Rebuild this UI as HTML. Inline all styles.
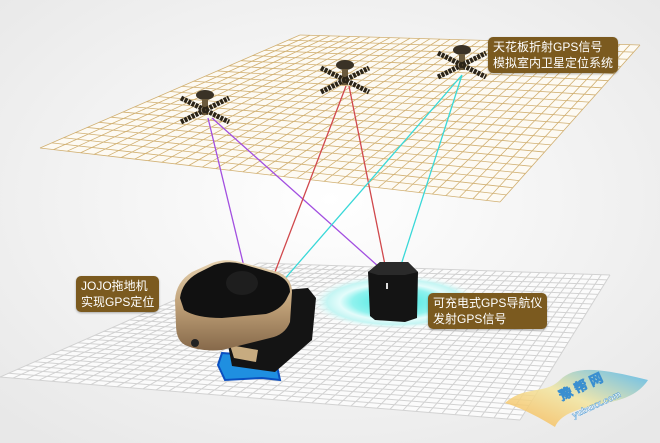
<!DOCTYPE html>
<html><head><meta charset="utf-8"><style>
html,body{margin:0;padding:0;width:660px;height:443px;overflow:hidden;background:#f4f4f4}
.lab{position:absolute;background:#7b5a1f;color:#fff;border-radius:5px;font-family:"Liberation Sans","Noto Sans CJK SC",sans-serif;font-size:12px;line-height:16px;padding:2px 5px;box-shadow:0 1px 2px rgba(0,0,0,.3)}
</style></head><body>
<svg id="s" width="660" height="443" style="position:absolute;left:0;top:0">
<defs>
<radialGradient id="bg" cx="50%" cy="45%" r="70%"><stop offset="0" stop-color="#ffffff"/><stop offset="1" stop-color="#e8e8e8"/></radialGradient>
<radialGradient id="glow"><stop offset="0" stop-color="#3de6e0"/><stop offset=".5" stop-color="#8ff2ee"/><stop offset=".65" stop-color="#e4fcfb"/><stop offset=".8" stop-color="#c4f5f3"/><stop offset="1" stop-color="#fff" stop-opacity="0"/></radialGradient>
<linearGradient id="gold" x1="0" y1="0" x2="0" y2="1"><stop offset="0" stop-color="#e6d2b0"/><stop offset=".5" stop-color="#bfa077"/><stop offset="1" stop-color="#86694a"/></linearGradient>
<linearGradient id="wm" x1="0" y1="1" x2="1" y2="0"><stop offset="0" stop-color="#f7b24a"/><stop offset=".5" stop-color="#f3e6a0"/><stop offset="1" stop-color="#4ab4ee"/></linearGradient>
<g id="sat">
<ellipse cx="0" cy="-10" rx="9" ry="5" fill="#3a3226"/>
<rect x="-3" y="-6" width="6" height="16" fill="#6b5a3c"/>
<path d="M-24,-7L24,17" stroke="#2b2418" stroke-width="5" stroke-dasharray="3,1"/>
<path d="M-24,17L24,-7" stroke="#2b2418" stroke-width="5" stroke-dasharray="3,1"/>
</g>
</defs>
<rect width="660" height="443" fill="url(#bg)"/>
<polygon points="40,148 300,35 640,45 500,202" fill="#fdfaf3"/>
<g id="tg" stroke="#d1b072" stroke-width="0.8"></g>
<polygon points="0,377 259,263 610,275 520,420" fill="#fbfbfb"/>
<g id="bgr" stroke="#d2d2d2" stroke-width="1"></g>
<ellipse cx="395" cy="302" rx="85" ry="28" fill="url(#glow)"/>
<g stroke-width="1.3" fill="none">
<path d="M208,118L246,275M212,118L388,275" stroke="#a24fe0"/>
<path d="M346,86L275,272M349,86L385,265" stroke="#d0484c"/>
<path d="M462,75L282,282M462,75L401,265" stroke="#39d8d8"/>
</g>
<use href="#sat" x="205" y="105"/>
<use href="#sat" x="345" y="75"/>
<use href="#sat" x="462" y="60"/>
<path d="M222,353L275,357L280,380L262,378L225,380L218,365Z" fill="#1f8fe0" stroke="#0b4fc0" stroke-width="2"/>
<path d="M262,292L308,288L316,298L312,340L275,372L232,366L228,345Z" fill="#141414"/>
<path d="M230,345L258,350L256,362L234,358Z" fill="#c7ab80"/>
<path d="M175,300Q176,282 192,272L212,263Q225,258 240,262L278,272Q292,278 292,292L290,322Q285,335 270,338L222,350Q200,352 185,345Q176,340 176,325Z" fill="url(#gold)"/>
<path d="M180,298Q182,282 198,273L214,265Q228,260 242,264L276,274Q290,280 290,292L286,300Q280,310 266,314L222,318Q196,318 184,310Z" fill="#111"/>
<ellipse cx="242" cy="283" rx="16" ry="12" fill="#1e1e1e"/>
<circle cx="195" cy="343" r="4" fill="#222"/>
<path d="M368,272L380,262L408,262L418,272L417,318L405,322L375,320L370,316Z" fill="#141414"/>
<path d="M368,272L380,262L408,262L418,272L405,275L378,275Z" fill="#2a2a2a"/>
<rect x="386" y="283" width="2" height="6" fill="#ddd"/>
<path d="M505,403C525,385 545,395 560,380C575,365 600,368 648,380C635,400 610,402 595,405C575,410 560,415 555,427C540,418 522,408 505,403Z" fill="url(#wm)" opacity=".85"/>
<text x="560" y="392" font-family="Liberation Sans" font-size="13" font-weight="bold" fill="#fff" stroke="#3a8fd0" stroke-width=".6" transform="rotate(-25 580 392)">豫 帮 网</text>
<text x="572" y="410" font-family="Liberation Sans" font-size="9" font-weight="bold" fill="#fff" stroke="#3a8fd0" stroke-width=".4" transform="rotate(-25 592 410)">yubuxx.com</text>
</svg>
<script>
function grid(id,A,B,C,D,nu,nv){var g=document.getElementById(id),h='';
function L(P,Q,t){return[P[0]+(Q[0]-P[0])*t,P[1]+(Q[1]-P[1])*t];}
for(var i=0;i<=nu;i++){var t=i/nu,p=L(A,D,t),q=L(B,C,t);h+='<line x1="'+p[0]+'" y1="'+p[1]+'" x2="'+q[0]+'" y2="'+q[1]+'"/>';}
for(var j=0;j<=nv;j++){var t=j/nv,p=L(A,B,t),q=L(D,C,t);h+='<line x1="'+p[0]+'" y1="'+p[1]+'" x2="'+q[0]+'" y2="'+q[1]+'"/>';}
g.innerHTML=h;}
grid('tg',[40,148],[300,35],[640,45],[500,202],34,22);
grid('bgr',[0,377],[259,263],[610,275],[520,420],40,30);
</script>
<div class="lab" style="left:488px;top:37px">天花板折射GPS信号<br>模拟室内卫星定位系统</div>
<div class="lab" style="left:76px;top:276px">JOJO拖地机<br>实现GPS定位</div>
<div class="lab" style="left:428px;top:293px">可充电式GPS导航仪<br>发射GPS信号</div>
</body></html>
